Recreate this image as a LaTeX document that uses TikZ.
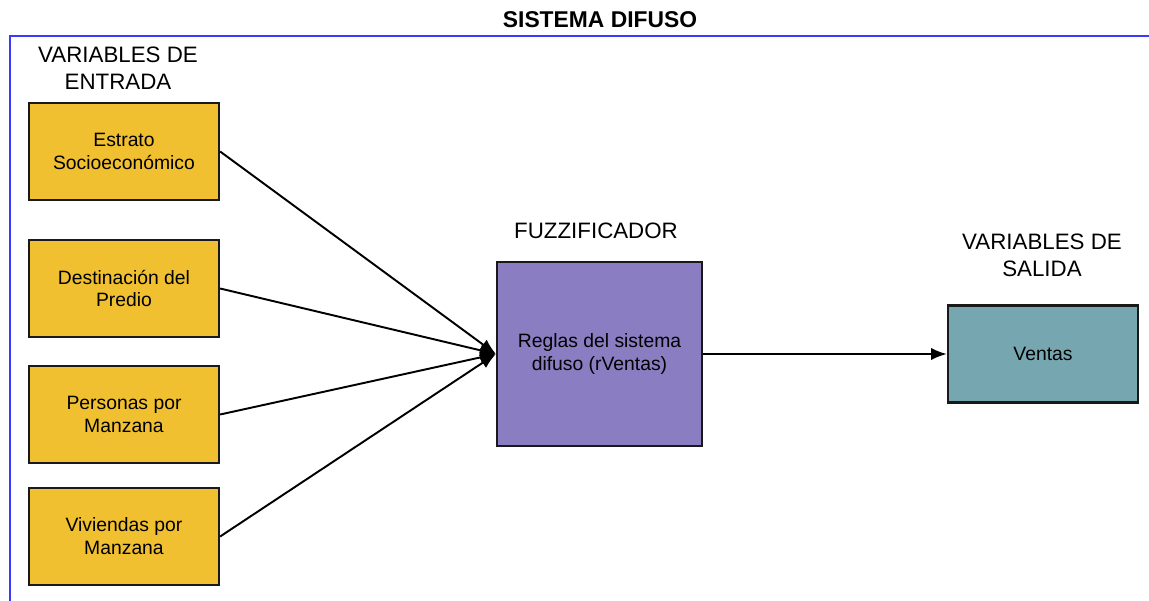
\documentclass[tikz,border=0pt]{standalone}
\usepackage{fontspec}
\setmainfont{Liberation Sans}
\usetikzlibrary{arrows.meta}
\definecolor{entrada}{HTML}{F0C030}
\definecolor{fuzzy}{HTML}{8B7DC1}
\definecolor{salida}{HTML}{76A6B0}
\definecolor{marco}{HTML}{3A3AFF}

\begin{document}
\begin{tikzpicture}[x=0.02cm, y=-0.02cm, line width=1.1pt,
  every node/.style={font=\fontsize{11}{13}\selectfont, align=center},
  caja/.style={draw=black!90, line width=1.3pt, minimum width=3.8cm, minimum height=1.94cm, inner sep=0pt},
  etiqueta/.style={font=\fontsize{12.7}{15.3}\selectfont},
  flecha/.style={-{Latex[length=9pt,width=7pt]}}]
  \useasboundingbox (0,0) rectangle (1149,601);
  \draw[marco, line width=1.3pt] (1149,36) -- (10,36) -- (10,601);
  \node[font=\fontsize{13}{15}\selectfont\bfseries] (titulo) at (600,20) {SISTEMA DIFUSO};
  % variables de entrada
  \node[etiqueta] (lblentrada) at (118,68) {VARIABLES DE\\ENTRADA};
  \node[caja, fill=entrada] (estrato) at (124,151.5) {Estrato\\Socioeconómico};
  \node[caja, fill=entrada] (destino) at (124,288.5) {Destinación del\\Predio};
  \node[caja, fill=entrada] (personas) at (124,414.5) {Personas por\\Manzana};
  \node[caja, fill=entrada] (viviendas) at (124,536.5) {Viviendas por\\Manzana};
  % fuzzificador
  \node[etiqueta] (lblfuzzy) at (596,231) {FUZZIFICADOR};
  \node[caja, fill=fuzzy, minimum width=4.1cm, minimum height=3.68cm] (reglas) at (599.5,354) {Reglas del sistema\\difuso (rVentas)};
  % variables de salida
  \node[etiqueta] (lblsalida) at (1042,255) {VARIABLES DE\\SALIDA};
  \node[caja, fill=salida] (ventas) at (1043,354) {Ventas};
  % conexiones
  \foreach \v in {estrato,destino,personas,viviendas}
    \draw[flecha] (\v.east) -- (reglas.west);
  \draw[flecha] (reglas) -- (ventas);
\end{tikzpicture}
\end{document}
